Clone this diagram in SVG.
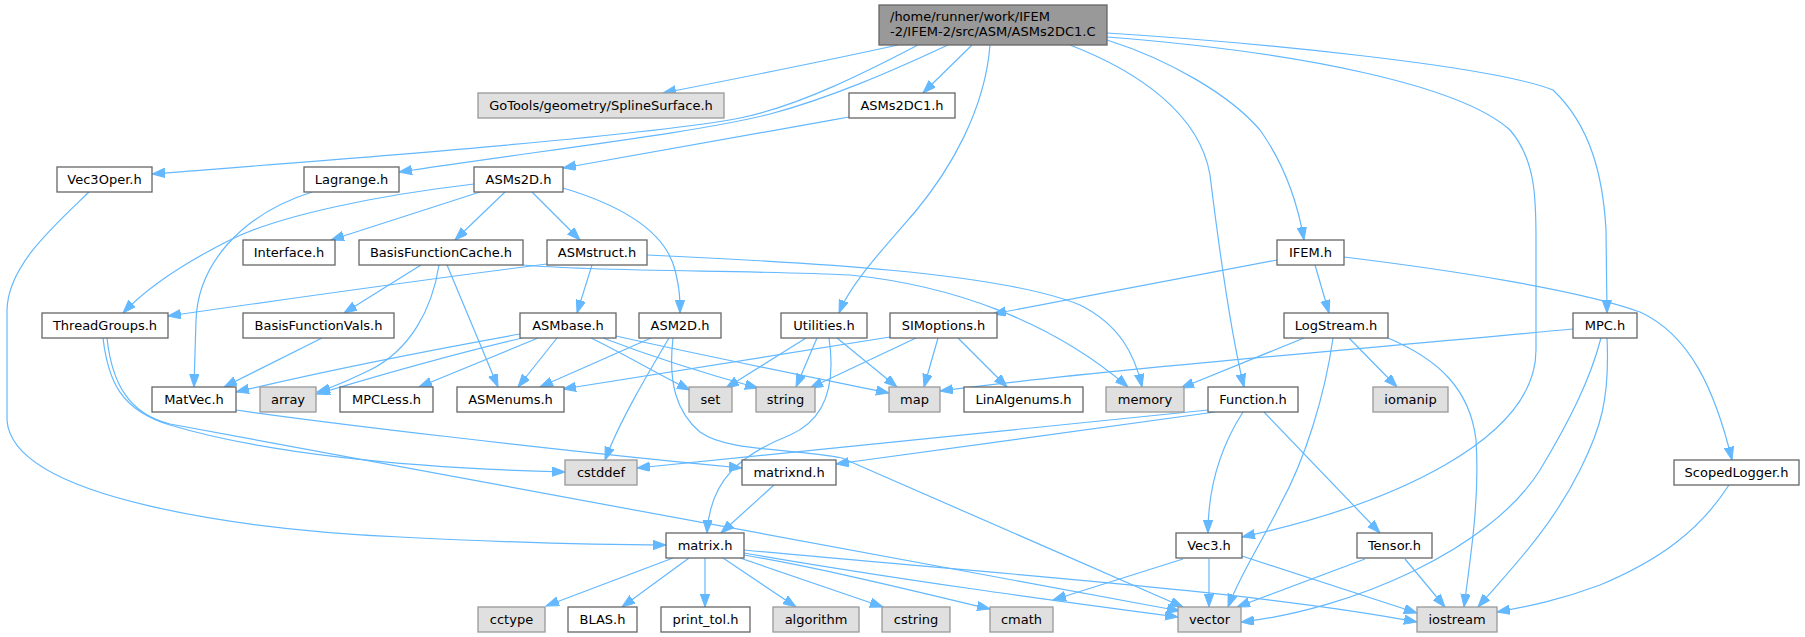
<svg xmlns="http://www.w3.org/2000/svg" width="1805" height="637" viewBox="0 0 1805 637">
<style>
.n rect{fill:#ffffff;stroke:#666666;stroke-width:1.3}
.g rect{fill:#e0e0e0;stroke:#999999;stroke-width:1.3}
.m rect{fill:#999999;stroke:#666666;stroke-width:1.3}
text{font-family:"DejaVu Sans",sans-serif;font-size:13px;fill:#000000}
.n text,.g text{text-anchor:middle}
#edges path{fill:none;stroke:#63b8ff;stroke-width:1.2;marker-end:url(#ah)}
</style>
<defs>
<marker id="ah" markerUnits="userSpaceOnUse" markerWidth="14" markerHeight="10" refX="13" refY="4.7" orient="auto">
<path d="M0,0 L13,4.7 L0,9.4 z" fill="#63b8ff" stroke="#63b8ff" stroke-width="1"/>
</marker>
</defs>
<rect width="1805" height="637" fill="#ffffff"/>
<g id="edges">
<path d="M898,45 C820,62 740,78 663,93"/>
<path d="M918,45 C870,70 800,106 740,118 C640,137 330,160 152,174"/>
<path d="M948,45 C890,72 830,98 770,114 C700,132 560,148 399,172"/>
<path d="M972,45 L923,93"/>
<path d="M990,45 C985,110 950,170 915,212 C880,252 850,285 839,313"/>
<path d="M1070,45 C1140,72 1200,115 1210,175 C1218,240 1230,330 1244,387"/>
<path d="M1107,40 C1170,60 1230,95 1260,130 C1285,165 1298,205 1304,240"/>
<path d="M1107,37 C1300,52 1460,85 1510,130 C1536,160 1536,200 1536,240 L1536,350 C1536,440 1390,505 1242,537"/>
<path d="M1107,33 C1250,42 1490,65 1553,90 C1590,125 1603,175 1606,230 L1607,313"/>
<path d="M849,117 C750,135 650,152 563,168"/>
<path d="M89,192 C55,225 8,265 7,310 L7,420 C12,500 250,530 400,537 C520,543 600,545 666,545"/>
<path d="M312,192 C240,215 198,265 196,320 L194,387"/>
<path d="M474,184 C380,195 280,215 230,240 C180,265 145,290 123,313"/>
<path d="M480,192 L331,240"/>
<path d="M505,192 L455,240"/>
<path d="M532,192 L580,240"/>
<path d="M563,188 C620,205 665,230 675,270 C680,290 680,300 680,313"/>
<path d="M421,265 L344,313"/>
<path d="M439,265 C432,310 410,350 370,370 C345,382 332,388 317,392"/>
<path d="M447,265 L498,387"/>
<path d="M523,265 C600,272 750,270 850,275 C950,285 1050,320 1128,387"/>
<path d="M547,264 C420,280 280,300 168,316"/>
<path d="M592,265 L577,313"/>
<path d="M647,255 C800,262 1000,272 1080,305 C1120,325 1135,355 1142,387"/>
<path d="M1277,260 L993,314"/>
<path d="M1315,265 L1329,313"/>
<path d="M1344,257 C1450,270 1580,290 1640,312 C1690,335 1715,390 1732,460"/>
<path d="M103,338 C108,380 120,410 170,425 C260,452 400,468 565,472"/>
<path d="M107,338 C112,385 130,414 170,424 L1180,611"/>
<path d="M322,338 L224,387"/>
<path d="M520,334 C420,352 320,372 236,392"/>
<path d="M522,338 C450,355 380,375 317,394"/>
<path d="M538,338 L419,387"/>
<path d="M557,338 L518,387"/>
<path d="M591,338 C620,352 660,375 690,390"/>
<path d="M603,338 C650,356 710,375 758,388"/>
<path d="M616,336 C700,355 800,375 889,393"/>
<path d="M651,338 L540,387"/>
<path d="M669,338 C650,370 620,420 605,460"/>
<path d="M673,338 C668,382 676,412 700,432 C728,452 790,448 842,458 L1183,607"/>
<path d="M806,338 L726,388"/>
<path d="M817,338 L796,387"/>
<path d="M837,338 L897,387"/>
<path d="M829,338 C836,385 825,420 790,435 C740,455 710,480 707,533"/>
<path d="M890,337 L563,389"/>
<path d="M916,338 L810,388"/>
<path d="M938,338 L924,387"/>
<path d="M958,338 L1007,387"/>
<path d="M1304,338 L1181,388"/>
<path d="M1349,338 L1397,387"/>
<path d="M1333,338 C1325,395 1305,460 1280,505 C1260,545 1240,575 1228,607"/>
<path d="M1388,338 C1440,360 1470,390 1476,440 C1480,500 1470,560 1464,607"/>
<path d="M1573,329 C1350,350 1100,370 940,391"/>
<path d="M1601,338 C1590,380 1570,420 1540,470 C1490,550 1350,610 1241,622"/>
<path d="M1607,338 C1610,400 1600,430 1580,470 C1550,530 1510,570 1478,607"/>
<path d="M236,410 C320,422 550,450 742,468"/>
<path d="M1208,410 L637,468"/>
<path d="M1215,412 L836,464"/>
<path d="M1243,412 C1225,440 1208,480 1208,533"/>
<path d="M1264,412 L1380,533"/>
<path d="M774,485 L721,533"/>
<path d="M1729,485 C1700,530 1660,560 1600,585 C1560,600 1530,606 1497,612"/>
<path d="M673,558 L546,606"/>
<path d="M689,558 L622,607"/>
<path d="M705,558 L705,607"/>
<path d="M723,558 L796,607"/>
<path d="M740,558 L883,607"/>
<path d="M744,555 C830,570 910,590 990,609"/>
<path d="M744,553 C900,580 1050,600 1178,617"/>
<path d="M744,550 C950,570 1250,590 1417,622"/>
<path d="M1183,559 L1053,600"/>
<path d="M1209,559 L1209,607"/>
<path d="M1242,556 L1417,613"/>
<path d="M1365,559 L1237,607"/>
<path d="M1405,559 L1445,607"/>
</g>
<g id="main" class="m"><rect x="879" y="5" width="228" height="40"/><text x="890" y="20.5">/home/runner/work/IFEM</text><text x="890" y="35.5">-2/IFEM-2/src/ASM/ASMs2DC1.C</text></g>
<g id="GoTools" class="g"><rect x="478" y="93" width="246" height="25"/><text x="601" y="110">GoTools/geometry/SplineSurface.h</text></g>
<g id="ASMs2DC1" class="n"><rect x="849" y="93" width="106" height="25"/><text x="902" y="110">ASMs2DC1.h</text></g>
<g id="Vec3Oper" class="n"><rect x="57" y="167" width="95" height="25"/><text x="104.5" y="184">Vec3Oper.h</text></g>
<g id="Lagrange" class="n"><rect x="304" y="167" width="95" height="25"/><text x="351.5" y="184">Lagrange.h</text></g>
<g id="ASMs2D" class="n"><rect x="474" y="167" width="89" height="25"/><text x="518.5" y="184">ASMs2D.h</text></g>
<g id="Interface" class="n"><rect x="243" y="240" width="92" height="25"/><text x="289" y="257">Interface.h</text></g>
<g id="BasisFunctionCache" class="n"><rect x="359" y="240" width="164" height="25"/><text x="441" y="257">BasisFunctionCache.h</text></g>
<g id="ASMstruct" class="n"><rect x="547" y="240" width="100" height="25"/><text x="597" y="257">ASMstruct.h</text></g>
<g id="IFEM" class="n"><rect x="1277" y="240" width="67" height="25"/><text x="1310.5" y="257">IFEM.h</text></g>
<g id="ThreadGroups" class="n"><rect x="42" y="313" width="126" height="25"/><text x="105" y="330">ThreadGroups.h</text></g>
<g id="BasisFunctionVals" class="n"><rect x="243" y="313" width="151" height="25"/><text x="318.5" y="330">BasisFunctionVals.h</text></g>
<g id="ASMbase" class="n"><rect x="520" y="313" width="96" height="25"/><text x="568" y="330">ASMbase.h</text></g>
<g id="ASM2D" class="n"><rect x="639" y="313" width="82" height="25"/><text x="680" y="330">ASM2D.h</text></g>
<g id="Utilities" class="n"><rect x="781" y="313" width="86" height="25"/><text x="824" y="330">Utilities.h</text></g>
<g id="SIMoptions" class="n"><rect x="890" y="313" width="107" height="25"/><text x="943.5" y="330">SIMoptions.h</text></g>
<g id="LogStream" class="n"><rect x="1284" y="313" width="104" height="25"/><text x="1336" y="330">LogStream.h</text></g>
<g id="MPC" class="n"><rect x="1573" y="313" width="64" height="25"/><text x="1605" y="330">MPC.h</text></g>
<g id="MatVec" class="n"><rect x="152" y="387" width="84" height="25"/><text x="194" y="404">MatVec.h</text></g>
<g id="array" class="g"><rect x="260" y="387" width="56" height="25"/><text x="288" y="404">array</text></g>
<g id="MPCLess" class="n"><rect x="340" y="387" width="93" height="25"/><text x="386.5" y="404">MPCLess.h</text></g>
<g id="ASMenums" class="n"><rect x="457" y="387" width="107" height="25"/><text x="510.5" y="404">ASMenums.h</text></g>
<g id="set" class="g"><rect x="689" y="387" width="43" height="25"/><text x="710.5" y="404">set</text></g>
<g id="string" class="g"><rect x="756" y="387" width="59" height="25"/><text x="785.5" y="404">string</text></g>
<g id="map" class="g"><rect x="889" y="387" width="51" height="25"/><text x="914.5" y="404">map</text></g>
<g id="LinAlgenums" class="n"><rect x="964" y="387" width="119" height="25"/><text x="1023.5" y="404">LinAlgenums.h</text></g>
<g id="memory" class="g"><rect x="1106" y="387" width="78" height="25"/><text x="1145" y="404">memory</text></g>
<g id="Function" class="n"><rect x="1208" y="387" width="90" height="25"/><text x="1253" y="404">Function.h</text></g>
<g id="iomanip" class="g"><rect x="1373" y="387" width="75" height="25"/><text x="1410.5" y="404">iomanip</text></g>
<g id="cstddef" class="g"><rect x="565" y="460" width="72" height="25"/><text x="601" y="477">cstddef</text></g>
<g id="matrixnd" class="n"><rect x="742" y="460" width="94" height="25"/><text x="789" y="477">matrixnd.h</text></g>
<g id="ScopedLogger" class="n"><rect x="1674" y="460" width="125" height="25"/><text x="1736.5" y="477">ScopedLogger.h</text></g>
<g id="matrix" class="n"><rect x="666" y="533" width="78" height="25"/><text x="705" y="550">matrix.h</text></g>
<g id="Vec3" class="n"><rect x="1176" y="533" width="66" height="25"/><text x="1209" y="550">Vec3.h</text></g>
<g id="Tensor" class="n"><rect x="1357" y="533" width="75" height="25"/><text x="1394.5" y="550">Tensor.h</text></g>
<g id="cctype" class="g"><rect x="478" y="607" width="67" height="25"/><text x="511.5" y="624">cctype</text></g>
<g id="BLAS" class="n"><rect x="568" y="607" width="69" height="25"/><text x="602.5" y="624">BLAS.h</text></g>
<g id="print_tol" class="n"><rect x="661" y="607" width="89" height="25"/><text x="705.5" y="624">print_tol.h</text></g>
<g id="algorithm" class="g"><rect x="773" y="607" width="86" height="25"/><text x="816" y="624">algorithm</text></g>
<g id="cstring" class="g"><rect x="882" y="607" width="68" height="25"/><text x="916" y="624">cstring</text></g>
<g id="cmath" class="g"><rect x="990" y="607" width="63" height="25"/><text x="1021.5" y="624">cmath</text></g>
<g id="vector" class="g"><rect x="1178" y="607" width="63" height="25"/><text x="1209.5" y="624">vector</text></g>
<g id="iostream" class="g"><rect x="1417" y="607" width="80" height="25"/><text x="1457" y="624">iostream</text></g>
</svg>
